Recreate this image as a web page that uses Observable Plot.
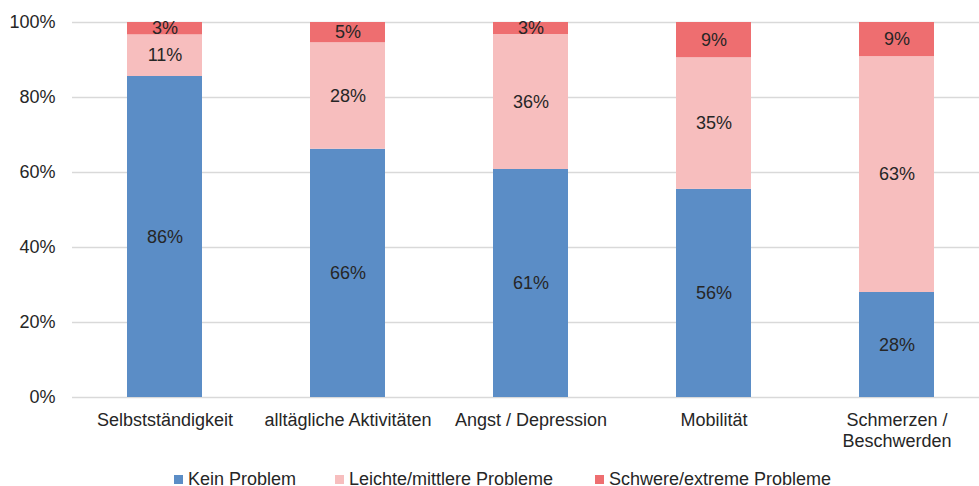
<!DOCTYPE html>
<html><head><meta charset="utf-8">
<script src="https://cdn.jsdelivr.net/npm/d3@7"></script>
<script src="https://cdn.jsdelivr.net/npm/@observablehq/plot@0.6"></script>
<style>
body{margin:0;background:#fff;font-family:"Liberation Sans",Arial,sans-serif;}
#chart{width:979px;height:486px;position:relative;overflow:hidden;background:#fff}
#legend{position:absolute;top:466px;left:0;width:979px;height:26px;font-size:18px;line-height:26px;color:#262626}
.item{position:absolute;top:0;height:26px;display:flex;align-items:center;white-space:nowrap}
.sw{width:9px;height:9px;margin-right:5px;display:inline-block}
</style></head><body><div id="chart"></div>
<script>
const categories = ["Selbstständigkeit","alltägliche Aktivitäten","Angst / Depression","Mobilität","Schmerzen /\nBeschwerden"];
const series = ["Kein Problem","Leichte/mittlere Probleme","Schwere/extreme Probleme"];
const keinProblem = [85.6,66.2,60.8,55.5,28.0];
const leichteProbleme = [11.1,28.4,36.0,35.1,62.9];
const schwereProbleme = [3.3,5.4,3.2,9.4,9.1];
const colors = ["#5b8dc6","#f7bebe","#ee6e70"];
const yTicks = [0,0.2,0.4,0.6,0.8,1];
const legendLeft = [174,335,595];

const seriesValues = [keinProblem, leichteProbleme, schwereProbleme];
const data = categories.flatMap((c,i)=>seriesValues.map((arr,j)=>({category:c, series:series[j], value:arr[i]})));

const plot = Plot.plot({
  width:979, height:460,
  marginTop:22, marginBottom:63, marginLeft:72, marginRight:-10,
  style:{fontFamily:"'Liberation Sans', Arial, sans-serif", fontSize:"18px", color:"#262626", background:"#fff", overflow:"hidden"},
  x:{domain:categories, paddingInner:0.59, paddingOuter:0.295, label:null},
  y:{domain:[0,1], label:null},
  color:{domain:series, range:colors},
  marks:[
    Plot.ruleY(yTicks, {stroke:"#d9d9d9", strokeWidth:1.5}),
    Plot.barY(data, Plot.stackY({offset:"normalize", x:"category", y:"value", fill:"series", order:series})),
    Plot.text(data, Plot.stackY({offset:"normalize", x:"category", y:"value", z:"series", order:series, text:d=>Math.round(d.value)+"%", fill:"#262626", fontSize:18})),
    Plot.axisY(yTicks, {tickFormat:d3.format(".0%"), tickSize:0, tickPadding:17, fontSize:18, fill:"#262626"}),
    Plot.axisX({tickSize:0, tickPadding:13, fontSize:18, lineHeight:1.2, fill:"#262626"})
  ]
});
const chart = document.getElementById("chart");
chart.appendChild(plot);

const legend = document.createElement("div");
legend.id = "legend";
const colorScale = plot.scale("color");
series.forEach((s,i)=>{
  const it = document.createElement("div");
  it.className = "item";
  it.style.left = legendLeft[i]+"px";
  const sw = document.createElement("span");
  sw.className = "sw";
  sw.style.background = colorScale.apply(s);
  it.appendChild(sw);
  it.appendChild(document.createTextNode(s));
  legend.appendChild(it);
});
chart.appendChild(legend);
</script></body></html>
